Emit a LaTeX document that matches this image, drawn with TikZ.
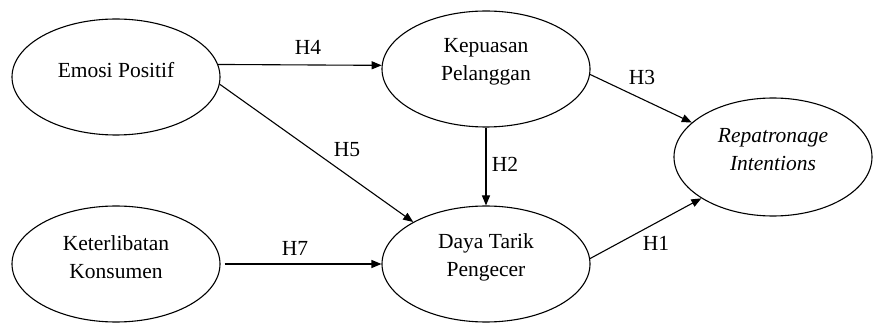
\documentclass[tikz,border=0pt]{standalone}
\usepackage{fontspec}
\setmainfont{Liberation Serif}
\newfontfamily\tnr{Liberation Serif}
\usetikzlibrary{shapes.geometric,arrows.meta}
\begin{document}
\begin{tikzpicture}[x=1pt,y=-1pt,
  ell/.style={draw, ellipse, line width=1.1pt, minimum width=208pt, minimum height=116pt, inner sep=0pt},
  txt/.style={yshift=7pt, align=center, font=\tnr\fontsize{21.5}{28}\selectfont},
  lab/.style={font=\tnr\fontsize{21.5}{28}\selectfont, inner sep=0pt},
  arr/.style={line width=1.1pt, -{Triangle[length=10pt,width=8pt]}}]
\useasboundingbox (0,0) rectangle (873,323);
\node[ell, label={[txt]center:Emosi Positif}] (emosi) at (116,77) {};
\node[ell, label={[txt]center:Keterlibatan\\Konsumen}] (keter) at (116,264) {};
\node[ell, label={[txt]center:Kepuasan\\Pelanggan}] (kepuasan) at (486,69) {};
\node[ell, label={[txt]center:Daya Tarik\\Pengecer}] (daya) at (486,264) {};
\node[ell, minimum width=198pt, minimum height=118pt, label={[txt]center:\itshape Repatronage\\\itshape Intentions}] (repat) at (773,157) {};
\draw[arr] (emosi.7) -- (kepuasan.178);
\draw[arr] (emosi.-4) -- (daya.150);
\draw[arr, shorten <=4pt] (keter.east) -- (daya.west);
\draw[arr] (kepuasan.south) -- (daya.north);
\draw[arr] (kepuasan.-3) -- (repat.157);
\draw[arr] (daya.3) -- (repat.210);
\node[lab] (h4) at (308,47) {H4};
\node[lab] (h5) at (347,150) {H5};
\node[lab] (h7) at (295,248) {H7};
\node[lab] (h2) at (505,164) {H2};
\node[lab] (h3) at (642,77) {H3};
\node[lab] (h1) at (656,243) {H1};
\end{tikzpicture}
\end{document}
